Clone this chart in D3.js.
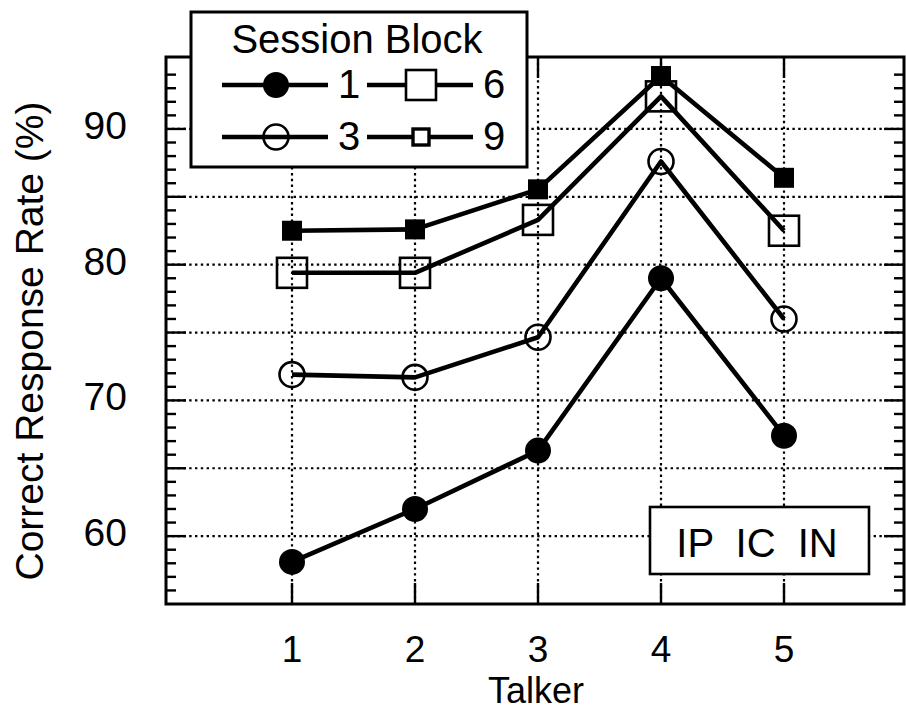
<!DOCTYPE html>
<html>
<head>
<meta charset="utf-8">
<script src="https://cdn.jsdelivr.net/npm/d3@7"></script>
<style>
  html, body { margin: 0; padding: 0; background: #fff; }
  svg { display: block; font-family: "Liberation Sans", Arial, Helvetica, sans-serif; }
</style>
</head>
<body>
<svg id="chart" width="906" height="711"></svg>
<script>
// Correct response rate per talker, one series per session block
const talkers = [1, 2, 3, 4, 5];
const sessionBlocks = ["1", "3", "6", "9"];
const block1 = [58.1, 62.0, 66.3, 79.0, 67.4];
const block3 = [71.9, 71.7, 74.65, 87.6, 76.0];
const block6 = [79.4, 79.4, 83.3, 92.4, 82.5];
const block9 = [82.5, 82.6, 85.55, 93.9, 86.4];
const yTickLabels = [60, 70, 80, 90];
const gridValues = [60, 65, 70, 75, 80, 85, 90];
const xLabel = "Talker";
const yLabel = "Correct Response Rate (%)";
const legendTitle = "Session Block";
const conditionLabel = "IP IC IN";

const series = [
  { name: sessionBlocks[0], values: block1, marker: "filledCircle" },
  { name: sessionBlocks[1], values: block3, marker: "openCircle" },
  { name: sessionBlocks[2], values: block6, marker: "openSquare" },
  { name: sessionBlocks[3], values: block9, marker: "filledSquare" }
];

const svg = d3.select("#chart");
const frame = { left: 166, right: 904, top: 57, bottom: 604 };

const x = d3.scaleLinear().domain([1, 5]).range([292, 784]);
const y = d3.scaleLinear().domain([55, 95.3]).range([frame.bottom, frame.top]);

// dotted grid
const grid = svg.append("g")
  .attr("stroke", "#000").attr("stroke-width", 2.2)
  .attr("stroke-dasharray", "2.4 3.4").attr("fill", "none");
grid.selectAll("line.h").data(gridValues).join("line")
  .attr("class", "h")
  .attr("x1", frame.left).attr("x2", frame.right)
  .attr("y1", d => y(d)).attr("y2", d => y(d));
grid.selectAll("line.v").data(talkers).join("line")
  .attr("class", "v")
  .attr("x1", d => x(d)).attr("x2", d => x(d))
  .attr("y1", frame.top).attr("y2", frame.bottom);

// frame
svg.append("rect")
  .attr("x", frame.left).attr("y", frame.top)
  .attr("width", frame.right - frame.left).attr("height", frame.bottom - frame.top)
  .attr("fill", "none").attr("stroke", "#000").attr("stroke-width", 3);

// inward ticks on all four sides
const ticks = svg.append("g").attr("stroke", "#000").attr("stroke-width", 2.4);
const yTickVals = d3.range(56, 95);
const tickLen = d => (d % 5 === 0 ? 20 : 10);
ticks.selectAll("line.yl").data(yTickVals).join("line")
  .attr("x1", frame.left).attr("x2", d => frame.left + tickLen(d))
  .attr("y1", d => y(d)).attr("y2", d => y(d));
ticks.selectAll("line.yr").data(yTickVals).join("line")
  .attr("x1", frame.right).attr("x2", d => frame.right - tickLen(d))
  .attr("y1", d => y(d)).attr("y2", d => y(d));
ticks.selectAll("line.xb").data(talkers).join("line")
  .attr("x1", d => x(d)).attr("x2", d => x(d))
  .attr("y1", frame.bottom).attr("y2", frame.bottom - 21);
ticks.selectAll("line.xt").data(talkers).join("line")
  .attr("x1", d => x(d)).attr("x2", d => x(d))
  .attr("y1", frame.top).attr("y2", frame.top + 21);

// tick labels
svg.append("g").selectAll("text").data(yTickLabels).join("text")
  .attr("x", 127).attr("y", d => y(d) + 10)
  .attr("text-anchor", "end").attr("font-size", 39).text(d => d);
svg.append("g").selectAll("text").data(talkers).join("text")
  .attr("x", d => x(d)).attr("y", 662)
  .attr("text-anchor", "middle").attr("font-size", 37).text(d => d);

// axis titles
svg.append("text").attr("x", 536).attr("y", 703)
  .attr("text-anchor", "middle").attr("font-size", 36).text(xLabel);
svg.append("text")
  .attr("transform", "translate(43,341) rotate(-90)")
  .attr("text-anchor", "middle").attr("font-size", 39).text(yLabel);

// marker drawing
function drawMarker(g, type, cx, cy, scale) {
  const s = scale || 1;
  if (type === "filledCircle") {
    g.append("circle").attr("cx", cx).attr("cy", cy).attr("r", 13 * s).attr("fill", "#000");
  } else if (type === "openCircle") {
    g.append("circle").attr("cx", cx).attr("cy", cy).attr("r", 12.5 * s)
      .attr("fill", "none").attr("stroke", "#000").attr("stroke-width", 2.6);
  } else if (type === "openSquare") {
    const h = 15 * s;
    g.append("rect").attr("x", cx - h).attr("y", cy - h).attr("width", 2 * h).attr("height", 2 * h)
      .attr("fill", "none").attr("stroke", "#000").attr("stroke-width", 2.6);
  } else if (type === "filledSquare") {
    const h = 10 * s;
    g.append("rect").attr("x", cx - h).attr("y", cy - h).attr("width", 2 * h).attr("height", 2 * h)
      .attr("fill", "#000");
  }
}

// series lines and markers
const line = d3.line().x((d, i) => x(talkers[i])).y(d => y(d));
series.forEach(s => {
  const g = svg.append("g");
  g.append("path").datum(s.values).attr("d", line)
    .attr("fill", "none").attr("stroke", "#000").attr("stroke-width", 4.6)
    .attr("stroke-linejoin", "round");
  s.values.forEach((v, i) => drawMarker(g, s.marker, x(talkers[i]), y(v)));
});

// condition box
const cond = svg.append("g");
cond.append("rect").attr("x", 650).attr("y", 507).attr("width", 219).attr("height", 67)
  .attr("fill", "#fff").attr("stroke", "#000").attr("stroke-width", 2.6);
cond.append("text").attr("x", 757).attr("y", 557)
  .attr("text-anchor", "middle").attr("font-size", 40)
  .style("word-spacing", "11px").text(conditionLabel);

// legend
const leg = svg.append("g");
leg.append("rect").attr("x", 191).attr("y", 12).attr("width", 336).attr("height", 155)
  .attr("fill", "#fff").attr("stroke", "#000").attr("stroke-width", 3);
leg.append("text").attr("x", 357).attr("y", 53)
  .attr("text-anchor", "middle").attr("font-size", 40).text(legendTitle);

const legendSlots = [
  { col: 0, row: 0 }, { col: 0, row: 1 }, { col: 1, row: 0 }, { col: 1, row: 1 }
];
series.forEach((s, i) => {
  const slot = legendSlots[i];
  const x0 = 222 + slot.col * 145;
  const yc = 85 + slot.row * 52;
  const g = leg.append("g");
  g.append("line").attr("x1", x0).attr("x2", x0 + 106).attr("y1", yc).attr("y2", yc)
    .attr("stroke", "#000").attr("stroke-width", 4.6);
  const mx = x0 + 54;
  if (s.marker === "openSquare") {
    g.append("rect").attr("x", mx - 15).attr("y", yc - 15).attr("width", 30).attr("height", 30)
      .attr("fill", "#fff").attr("stroke", "#000").attr("stroke-width", 2.6);
  } else if (s.marker === "filledSquare") {
    g.append("rect").attr("x", mx - 8).attr("y", yc - 8).attr("width", 16).attr("height", 16)
      .attr("fill", "#fff").attr("stroke", "#000").attr("stroke-width", 3.4);
  } else {
    drawMarker(g, s.marker, mx, yc);
  }
  g.append("text").attr("x", x0 + 116).attr("y", yc + 13)
    .attr("font-size", 40).text(s.name);
});
</script>
</body>
</html>
